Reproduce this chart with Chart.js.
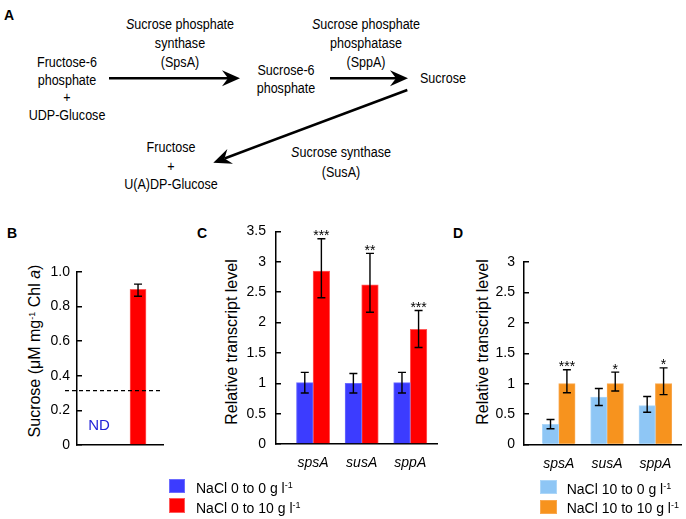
<!DOCTYPE html>
<html>
<head>
<meta charset="utf-8">
<script src="https://cdn.jsdelivr.net/npm/chart.js@4"></script>
<style>
  html, body { margin: 0; padding: 0; background: #fff; }
  #page { position: relative; width: 686px; height: 519px; overflow: hidden; font-family: "Liberation Sans", Arial, sans-serif; color: #000; }
  #page canvas, #page svg { position: absolute; left: 0; top: 0; }
  .t { position: absolute; width: 200px; text-align: center; font-size: 15.5px; white-space: nowrap; transform: scaleX(0.81); }
  .panel { position: absolute; font-size: 14px; font-weight: bold; line-height: 16px; }
  .ytitle { position: absolute; width: 300px; text-align: center; font-size: 16px; line-height: 20px; white-space: nowrap; transform: rotate(-90deg); }
  .sw { position: absolute; box-sizing: border-box; border: 1px solid; }
  .lg { position: absolute; font-size: 14px; line-height: 16px; white-space: nowrap; }
  sup { font-size: 9px; line-height: 0; vertical-align: 5px; }
</style>
</head>
<body>
<div id="page">
  <svg id="arrows" width="686" height="519"></svg>

  <div class="panel" style="left:4px; top:7px">A</div>
  <div class="panel" style="left:7px; top:225px">B</div>
  <div class="panel" style="left:197px; top:225px">C</div>
  <div class="panel" style="left:453px; top:225px">D</div>

  <div class="t" style="left:-33.5px; top:52.8px; line-height:17.8px">Fructose-6<br>phosphate<br>+<br>UDP-Glucose</div>
  <div class="t" style="left:79.5px; top:13.7px; line-height:19.2px"><i>S</i>ucrose phosphate<br>synthase<br>(SpsA)</div>
  <div class="t" style="left:186px; top:61.3px; line-height:17.3px">Sucrose-6<br>phosphate</div>
  <div class="t" style="left:266px; top:13.7px; line-height:19.2px"><i>S</i>ucrose phosphate<br>phosphatase<br>(SppA)</div>
  <div class="t" style="left:343px; top:69.3px; line-height:18px">Sucrose</div>
  <div class="t" style="left:71px; top:138px; line-height:18.5px">Fructose<br>+<br>U(A)DP-Glucose</div>
  <div class="t" style="left:240.5px; top:141.7px; line-height:20px"><i>S</i>ucrose synthase<br>(SusA)</div>

  <div class="ytitle" style="left:-115.5px; top:341px">Sucrose (μM mg<sup>-1</sup> Chl <i>a</i>)</div>
  <div class="ytitle" style="left:81.5px; top:331.7px">Relative transcript level</div>
  <div class="ytitle" style="left:332.5px; top:331.7px">Relative transcript level</div>

  <canvas id="chartB" width="686" height="519"></canvas>
  <canvas id="chartC" width="686" height="519"></canvas>
  <canvas id="chartD" width="686" height="519"></canvas>

  <div class="sw" style="left:169px; top:479px; width:16px; height:14px; background:#3c3cff; border-color:#6c6cff"></div>
  <div class="sw" style="left:169px; top:498px; width:16px; height:15px; background:#ff0000; border-color:#ff5a5a"></div>
  <div class="lg" style="left:196px; top:480px">NaCl 0 to 0 g l<sup>-1</sup></div>
  <div class="lg" style="left:196px; top:499.7px">NaCl 0 to 10 g l<sup>-1</sup></div>

  <div class="sw" style="left:540px; top:480px; width:17px; height:14px; background:#8ec6f5; border-color:#acd6f8"></div>
  <div class="sw" style="left:540px; top:500px; width:17px; height:14px; background:#f7931e; border-color:#f9a84e"></div>
  <div class="lg" style="left:566.7px; top:481px">NaCl 10 to 0 g l<sup>-1</sup></div>
  <div class="lg" style="left:566.7px; top:500px">NaCl 10 to 10 g l<sup>-1</sup></div>
</div>

<script>
// ---- panel B: sucrose content (0 to 0 is not detected)
const bGroups     = ["NaCl 0 to 0", "NaCl 0 to 10"]
const bSucrose    = [null, 0.90]
const bErrLow     = [null, 0.86]
const bErrHigh    = [null, 0.93]
const bNdLimit    = 0.314
const bTicks      = [0, 0.2, 0.4, 0.6, 0.8, 1.0]
const bTickLabels = ["0", "0.2", "0.4", "0.6", "0.8", "1.0"]

// ---- panel C: transcripts after 0 -> 0 / 0 -> 10 g/l NaCl
const genes       = ["spsA", "susA", "sppA"]
const c0to0       = [1.01, 1.00, 1.01]
const c0to0Low    = [0.84, 0.84, 0.84]
const c0to0High   = [1.18, 1.16, 1.18]
const c0to10      = [2.85, 2.62, 1.89]
const c0to10Low   = [2.41, 2.17, 1.59]
const c0to10High  = [3.38, 3.14, 2.20]
const cStars      = ["***", "**", "***"]
const cTicks      = [0, 0.5, 1, 1.5, 2, 2.5, 3, 3.5]
const cTickLabels = ["0", "0.5", "1", "1.5", "2", "2.5", "3", "3.5"]

// ---- panel D: transcripts after 10 -> 0 / 10 -> 10 g/l NaCl
const d10to0      = [0.33, 0.78, 0.64]
const d10to0Low   = [0.26, 0.64, 0.53]
const d10to0High  = [0.41, 0.92, 0.79]
const d10to10     = [1.00, 1.00, 1.00]
const d10to10Low  = [0.85, 0.88, 0.82]
const d10to10High = [1.23, 1.19, 1.26]
const dStars      = ["***", "*", "*"]
const dTicks      = [0, 0.5, 1, 1.5, 2, 2.5, 3]
const dTickLabels = ["0", "0.5", "1", "1.5", "2", "2.5", "3"]

const FONT = "Liberation Sans"

// pathway arrows for panel A
function arrow(x1, y1, x2, y2) {
  const L = Math.hypot(x2 - x1, y2 - y1)
  const ux = (x2 - x1) / L, uy = (y2 - y1) / L
  const px = -uy, py = ux
  const hl = 18, hw = 8, notch = 12
  const bx = x2 - ux * notch, by = y2 - uy * notch
  const pts = [
    [x2, y2],
    [x2 - ux * hl + px * hw, y2 - uy * hl + py * hw],
    [bx, by],
    [x2 - ux * hl - px * hw, y2 - uy * hl - py * hw]
  ].map(p => p.join(",")).join(" ")
  return `<line x1="${x1}" y1="${y1}" x2="${bx}" y2="${by}" stroke="#000" stroke-width="2.5"/>` +
         `<polygon points="${pts}" fill="#000"/>`
}
document.getElementById("arrows").innerHTML =
  arrow(109, 78.3, 240, 78.3) +
  arrow(330, 78.3, 408, 78.3) +
  arrow(407.3, 90, 213.3, 162.7)

// error bars + significance stars, read from dataset.errLow / errHigh / stars
const errorBars = {
  id: "errorBars",
  afterDatasetsDraw(chart) {
    const { ctx, scales: { y } } = chart
    ctx.save()
    ctx.strokeStyle = "#000"
    ctx.lineWidth = 1.4
    chart.data.datasets.forEach((ds, di) => {
      const meta = chart.getDatasetMeta(di)
      meta.data.forEach((bar, i) => {
        if (ds.errLow == null || ds.errLow[i] == null) return
        const x  = bar.x
        const yl = y.getPixelForValue(ds.errLow[i])
        const yh = y.getPixelForValue(ds.errHigh[i])
        ctx.beginPath()
        ctx.moveTo(x, yl); ctx.lineTo(x, yh)
        ctx.moveTo(x - 4, yl); ctx.lineTo(x + 4, yl)
        ctx.moveTo(x - 4, yh); ctx.lineTo(x + 4, yh)
        ctx.stroke()
        if (ds.stars && ds.stars[i]) {
          ctx.fillStyle = "#000"
          ctx.font = `14px "${FONT}"`
          ctx.textAlign = "center"
          ctx.textBaseline = "alphabetic"
          ctx.fillText(ds.stars[i], x, yh + 1.5)
        }
      })
    })
    ctx.restore()
  }
}

// B only: dashed detection limit and the "ND" note
const ndMarks = {
  id: "ndMarks",
  afterDatasetsDraw(chart) {
    const { ctx, chartArea, scales: { x, y } } = chart
    const yy = y.getPixelForValue(bNdLimit)
    ctx.save()
    ctx.strokeStyle = "#000"
    ctx.lineWidth = 1.3
    ctx.setLineDash([4, 3])
    ctx.beginPath()
    ctx.moveTo(chartArea.left - 12, yy)
    ctx.lineTo(chartArea.right, yy)
    ctx.stroke()
    ctx.fillStyle = "#2323d8"
    ctx.font = `15px "${FONT}"`
    ctx.textAlign = "center"
    ctx.textBaseline = "middle"
    ctx.fillText("ND", x.getPixelForValue(1), chartArea.bottom - 19)
    ctx.restore()
  }
}

// chart area is pinned by layout padding + fixed axis sizes
function makeChart(id, area, xRange, yTicks, yTickLabels, tickPad, datasets, showGenes, barThickness, plugins) {
  const yWidth = 40, xHeight = 30
  return new Chart(document.getElementById(id), {
    type: "bar",
    data: { datasets },
    plugins,
    options: {
      responsive: false,
      animation: false,
      events: [],
      barThickness,
      layout: {
        padding: {
          left: area.left - yWidth,
          right: 686 - area.right,
          top: area.top,
          bottom: 519 - area.bottom - xHeight
        }
      },
      plugins: { legend: { display: false }, tooltip: { enabled: false } },
      scales: {
        x: {
          type: "linear",
          offset: false,
          min: xRange[0],
          max: xRange[1],
          afterBuildTicks: s => { s.ticks = genes.slice(0, showGenes ? 3 : 2).map((g, i) => ({ value: i + 1 })) },
          afterFit: s => { s.height = xHeight },
          grid: { display: false, offset: false },
          border: { color: "#000", width: 1.5 },
          ticks: {
            display: showGenes,
            padding: 3,
            color: "#000",
            font: { family: FONT, size: 14, style: "italic" },
            callback: (v, i) => genes[i]
          }
        },
        y: {
          min: yTicks[0],
          max: yTicks[yTicks.length - 1],
          afterBuildTicks: s => { s.ticks = yTicks.map(v => ({ value: v })) },
          afterFit: s => { s.width = yWidth },
          grid: { drawOnChartArea: false, tickLength: -5, color: "#000", lineWidth: 1.5 },
          border: { color: "#000", width: 1.5 },
          ticks: {
            padding: tickPad,
            color: "#000",
            font: { family: FONT, size: 14 },
            callback: (v, i) => yTickLabels[i]
          }
        }
      }
    }
  })
}

const pts = vals => vals.map((v, i) => ({ x: i + 1, y: v }))

makeChart("chartB", { left: 77, right: 163, top: 272, bottom: 445 }, [0.436, 2.64],
  bTicks, bTickLabels, 12,
  [{
    label: bGroups[1],
    data: pts(bSucrose),
    errLow: bErrLow, errHigh: bErrHigh,
    backgroundColor: "#ff0000",
    borderColor: "#ff5a5a",
    borderWidth: 1
  }], false, 16, [errorBars, ndMarks])

makeChart("chartC", { left: 276, right: 437, top: 231.5, bottom: 444 }, [0.237, 3.55],
  cTicks, cTickLabels, 15,
  [{
    label: "NaCl 0 to 0 g l-1",
    data: pts(c0to0),
    errLow: c0to0Low, errHigh: c0to0High,
    backgroundColor: "#3c3cff",
    borderColor: "#6c6cff",
    borderWidth: 1
  }, {
    label: "NaCl 0 to 10 g l-1",
    data: pts(c0to10),
    errLow: c0to10Low, errHigh: c0to10High, stars: cStars,
    backgroundColor: "#ff0000",
    borderColor: "#ff5a5a",
    borderWidth: 1
  }], true, 16.6, [errorBars])

makeChart("chartD", { left: 524, right: 681, top: 262, bottom: 444.5 }, [0.282, 3.53],
  dTicks, dTickLabels, 14,
  [{
    label: "NaCl 10 to 0 g l-1",
    data: pts(d10to0),
    errLow: d10to0Low, errHigh: d10to0High,
    backgroundColor: "#8ec6f5",
    borderColor: "#acd6f8",
    borderWidth: 1
  }, {
    label: "NaCl 10 to 10 g l-1",
    data: pts(d10to10),
    errLow: d10to10Low, errHigh: d10to10High, stars: dStars,
    backgroundColor: "#f7931e",
    borderColor: "#f9a84e",
    borderWidth: 1
  }], true, 16.4, [errorBars])
</script>
</body>
</html>
